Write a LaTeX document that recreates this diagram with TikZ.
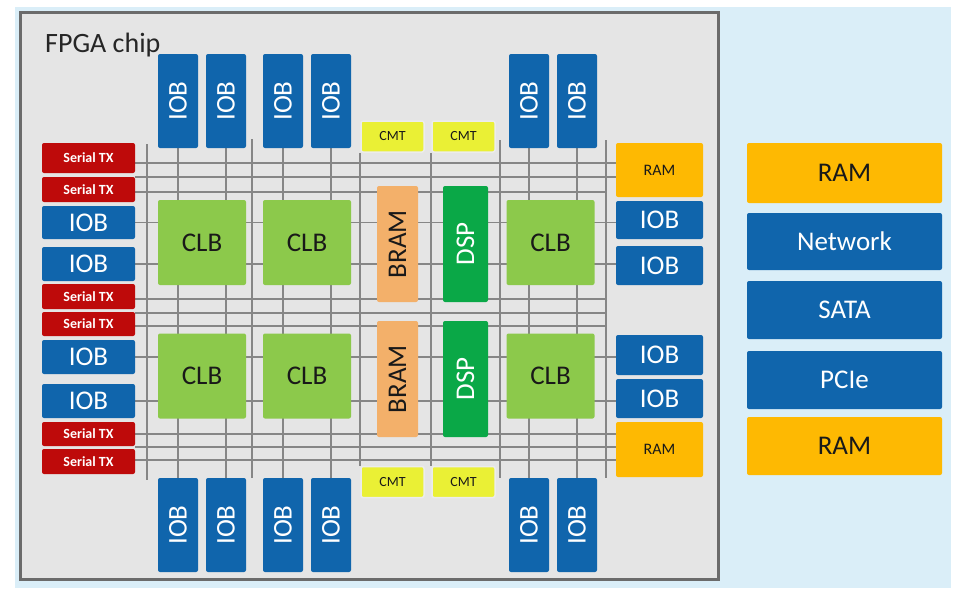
\documentclass[tikz,border=0pt]{standalone}
\usepackage{fontspec}
\setmainfont{Carlito}
\usetikzlibrary{backgrounds}

\definecolor{skyblue}{HTML}{DAEEF8}
\definecolor{chipgray}{HTML}{E5E5E5}
\definecolor{chipedge}{HTML}{6B6B6B}
\definecolor{iobblue}{HTML}{1065AC}
\definecolor{serialred}{HTML}{BE0A0A}
\definecolor{clbgreen}{HTML}{8CC94B}
\definecolor{bramorange}{HTML}{F3B06A}
\definecolor{dspgreen}{HTML}{0AA847}
\definecolor{cmtyellow}{HTML}{EAF035}
\definecolor{ramyellow}{HTML}{FEB902}
\definecolor{wiregray}{HTML}{868686}

\begin{document}
\begin{tikzpicture}[x=1pt, y=-1pt,
  blk/.style={rounded corners=2pt, inner sep=0pt, text=black!90, font=\fontsize{27}{30}\selectfont},
  iob/.style={blk, fill=iobblue, text=white},
  iobv/.style={iob, rotate=90, minimum width=94pt, minimum height=40pt},
  clb/.style={blk, fill=clbgreen, minimum width=88pt, minimum height=85pt},
  bram/.style={blk, fill=bramorange, rotate=90, minimum width=116pt, minimum height=41pt},
  dsp/.style={blk, fill=dspgreen, text=white, rotate=90, minimum width=116pt, minimum height=45pt},
  cmt/.style={blk, fill=cmtyellow, draw=white!85!gray, line width=1.5pt, minimum width=63pt, minimum height=31pt, font=\fontsize{14}{16}\selectfont},
  stx/.style={blk, fill=serialred, text=white, minimum width=93pt, font=\bfseries\fontsize{14}{16}\selectfont},
  ram/.style={blk, fill=ramyellow},
  ext/.style={minimum width=195pt},
  wire/.style={draw=wiregray, line width=1.6pt}
]
  \useasboundingbox (0,0) rectangle (965,597);

  % left column of the chip
  \node[stx, minimum height=30pt] (stxA) at (88.5,158) {Serial TX};
  \node[stx, minimum height=25pt] (stxB) at (88.5,189.5) {Serial TX};
  \node[iob, minimum width=93pt, minimum height=33pt] (iobLA) at (88.5,222.5) {IOB};
  \node[iob, minimum width=93pt, minimum height=34pt] (iobLB) at (88.5,264) {IOB};
  \node[stx, minimum height=25pt] (stxC) at (88.5,296.5) {Serial TX};
  \node[stx, minimum height=24pt] (stxD) at (88.5,324) {Serial TX};
  \node[iob, minimum width=93pt, minimum height=34pt] (iobLC) at (88.5,357) {IOB};
  \node[iob, minimum width=93pt, minimum height=34pt] (iobLD) at (88.5,401) {IOB};
  \node[stx, minimum height=24pt] (stxE) at (88.5,434) {Serial TX};
  \node[stx, minimum height=25pt] (stxF) at (88.5,461.5) {Serial TX};

  % top and bottom IOB rows
  \foreach \x [count=\i] in {178,226,283,331,529,577} {
    \node[iobv] (iobT\i) at (\x,101) {IOB};
    \node[iobv] (iobB\i) at (\x,525) {IOB};
  }

  % clock tiles
  \node[cmt] (cmtT1) at (392.5,136.5) {CMT};
  \node[cmt] (cmtT2) at (463.5,136.5) {CMT};
  \node[cmt] (cmtB1) at (392.5,482) {CMT};
  \node[cmt] (cmtB2) at (463.5,482) {CMT};

  % logic blocks
  \foreach \x/\n in {202/A,307/B,550.5/C} {
    \node[clb] (clbU\n) at (\x,242.5) {CLB};
    \node[clb] (clbD\n) at (\x,376) {CLB};
  }
  \node[bram] (bramA) at (397.5,244) {BRAM};
  \node[bram] (bramB) at (397.5,379) {BRAM};
  \node[dsp] (dspA) at (465.5,244) {DSP};
  \node[dsp] (dspB) at (465.5,379) {DSP};

  % right column of the chip
  \node[ram, minimum width=87pt, minimum height=54pt, font=\fontsize{16}{18}\selectfont] (ramA) at (659.5,170) {RAM};
  \node[iob, minimum width=87pt, minimum height=38pt] (iobRA) at (659.5,220) {IOB};
  \node[iob, minimum width=87pt, minimum height=39pt] (iobRB) at (659.5,265.5) {IOB};
  \node[iob, minimum width=87pt, minimum height=40pt] (iobRC) at (659.5,355) {IOB};
  \node[iob, minimum width=87pt, minimum height=39pt] (iobRD) at (659.5,398.5) {IOB};
  \node[ram, minimum width=87pt, minimum height=55pt, font=\fontsize{16}{18}\selectfont] (ramB) at (659.5,449.5) {RAM};

  % outside the chip
  \node[ram, ext, minimum height=60pt] (ramX) at (844.5,173) {RAM};
  \node[iob, ext, minimum height=57pt] (net) at (844.5,241.5) {Network};
  \node[iob, ext, minimum height=58pt] (sata) at (844.5,310) {SATA};
  \node[iob, ext, minimum height=58pt] (pcie) at (844.5,380) {PCIe};
  \node[ram, ext, minimum height=58pt] (ramY) at (844.5,446) {RAM};

  \node[anchor=base west, inner sep=0pt, text=black!85, font=\fontsize{28}{30}\selectfont] (title) at (45,52) {FPGA chip};

  \begin{scope}[on background layer]
    % board and chip
    \fill[skyblue] (15,7) rectangle (951,588);
    \draw[chipedge, fill=chipgray, line width=3pt] (20,12) rectangle (718,579);
    % routing grid
    \foreach \i in {1,...,6} \draw[wire] (iobT\i) -- (iobB\i);
    \foreach \i in {1,2} \draw[wire] (cmtT\i.south west) -- (cmtB\i.north west);
    \foreach \x/\a/\b in {147/144/480, 252/139/478, 500/140/478, 606/140/478}
      \draw[wire] (\x,\a) -- (\x,\b);
    \foreach \l/\r in {LA/RA, LB/RB, LC/RC, LD/RD}
      \draw[wire] (iob\l) -- (iob\l -| iob\r.west);
    \foreach \y in {163,177} \draw[wire] (stxA.east |- 0,\y) -- (ramA.west |- 0,\y);
    \foreach \y in {434,447,460} \draw[wire] (stxE.east |- 0,\y) -- (ramB.west |- 0,\y);
    \foreach \y in {192,299,313,326} \draw[wire] (stxA.east |- 0,\y) -- (606,\y);
  \end{scope}
\end{tikzpicture}
\end{document}
